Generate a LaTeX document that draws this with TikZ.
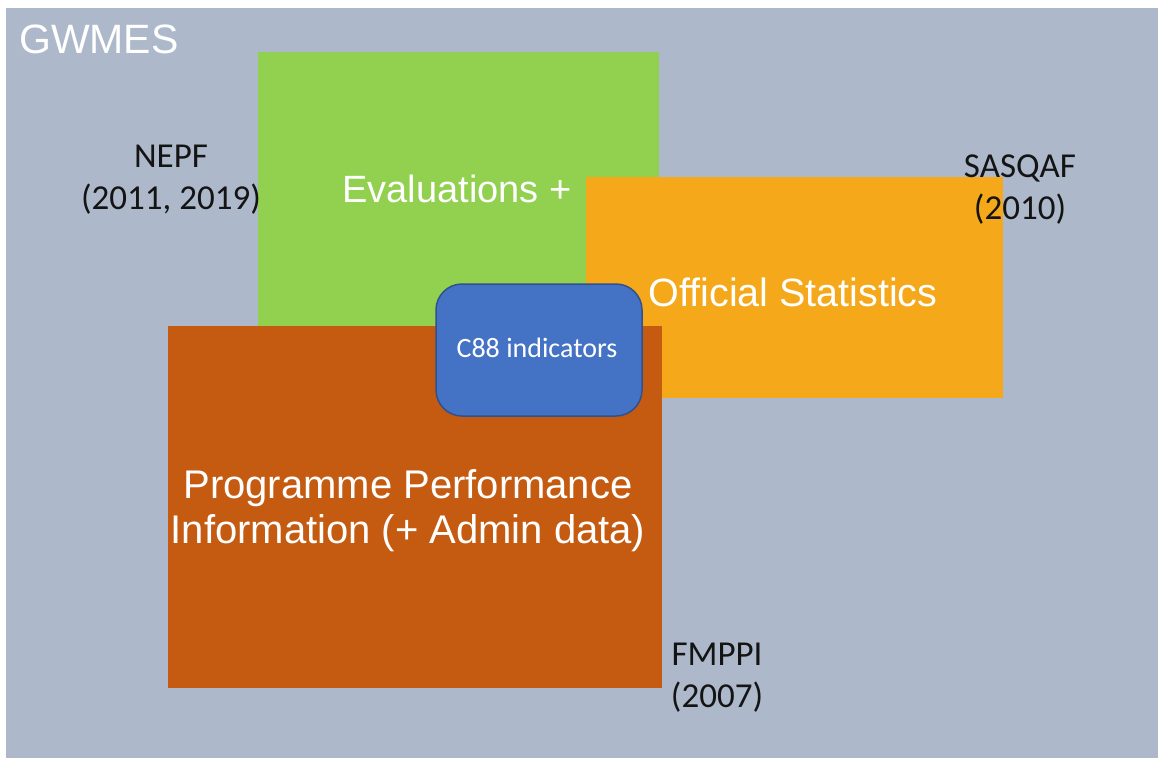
\documentclass[tikz,border=0pt]{standalone}
\usepackage{fontspec}
\setmainfont{Liberation Sans}
\newfontfamily\calibri{Carlito}
\definecolor{bggrey}{HTML}{ADB9CA}
\definecolor{evalgreen}{HTML}{92D050}
\definecolor{statorange}{HTML}{F4A81A}
\definecolor{ppibrown}{HTML}{C55A11}
\definecolor{c88blue}{HTML}{4472C4}
\definecolor{c88border}{HTML}{2F528F}
\definecolor{labelblack}{HTML}{141414}
\tikzset{
  area/.style={inner sep=0pt, outer sep=0pt, draw=none},
  bigtext/.style={text=white, inner sep=0pt, align=center, anchor=base,
    font=\fontsize{39.5}{45}\selectfont},
  sidetext/.style={text=labelblack, inner sep=0pt, align=center, anchor=base,
    font=\calibri\fontsize{35}{42}\selectfont},
}
\begin{document}
\begin{tikzpicture}[x=1pt,y=-1pt]
\useasboundingbox (0,0) rectangle (1158,758);
\fill[white] (0,0) rectangle (1158,758);
\node[area, fill=bggrey, minimum width=1152pt, minimum height=750pt] (gwmesbox) at (582,383) {};
\node[area, fill=evalgreen, minimum width=401pt, minimum height=274pt] (evalbox) at (458.5,189) {};
\node[area, fill=statorange, minimum width=417pt, minimum height=221pt] (statbox) at (794.5,287.5) {};
\node[area, fill=ppibrown, minimum width=494pt, minimum height=362pt] (ppibox) at (415,507) {};
\node[area, fill=c88blue, draw=c88border, line width=1.5pt, rounded corners=26pt,
  minimum width=206pt, minimum height=132pt] (c88box) at (539,350) {};
\node[text=white, inner sep=0pt, anchor=base west, font=\fontsize{41}{45}\selectfont] (gwmes) at (19,53) {GWMES};
\node[bigtext, font=\fontsize{38}{45}\selectfont] (evals) at (457,202) {Evaluations +};
\node[bigtext] (stats) at (793,306) {Official Statistics};
\node[bigtext, font=\fontsize{40}{45}\selectfont] (ppi) at (408,543) {Programme Performance\\Information (+ Admin data)};
\node[text=white, inner sep=0pt, anchor=base, font=\calibri\fontsize{28}{34}\selectfont] (c88) at (537,357) {C88 indicators};
\node[sidetext] (nepf) at (171,209) {NEPF\\(2011, 2019)};
\node[sidetext] (sasqaf) at (1020,219) {SASQAF\\(2010)};
\node[sidetext] (fmppi) at (717,707) {FMPPI\\(2007)};
\end{tikzpicture}
\end{document}
